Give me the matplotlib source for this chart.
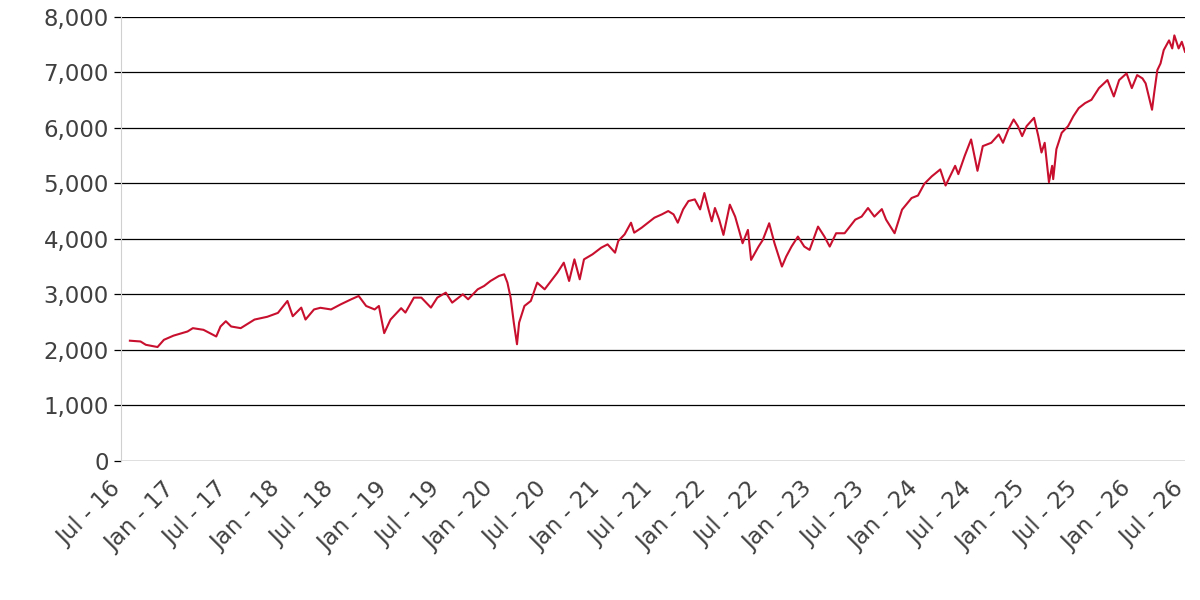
import pandas as pd
import numpy as np
import matplotlib
matplotlib.use('Agg')
import matplotlib.pyplot as plt
import matplotlib.dates as mdates
import matplotlib.transforms as mtransforms
from matplotlib.ticker import FuncFormatter

# index level, dates as decimal years
years = [2016.58, 2016.68, 2016.73, 2016.84, 2016.90, 2016.99, 2017.12, 2017.17, 2017.27, 2017.39,
         2017.43, 2017.48, 2017.53, 2017.62, 2017.75, 2017.87, 2017.97, 2018.06, 2018.11, 2018.19,
         2018.23, 2018.31, 2018.37, 2018.47, 2018.56, 2018.66, 2018.73, 2018.80, 2018.88, 2018.92,
         2018.97, 2019.03, 2019.13, 2019.17, 2019.25, 2019.32, 2019.41, 2019.47, 2019.55, 2019.61,
         2019.71, 2019.76, 2019.85, 2019.91, 2019.97, 2020.05, 2020.10, 2020.13, 2020.16, 2020.19,
         2020.22, 2020.24, 2020.29, 2020.35, 2020.41, 2020.48, 2020.54, 2020.60, 2020.66, 2020.71,
         2020.76, 2020.81, 2020.85, 2020.93, 2021.01, 2021.07, 2021.14, 2021.17, 2021.23, 2021.29,
         2021.32, 2021.39, 2021.45, 2021.51, 2021.58, 2021.64, 2021.69, 2021.73, 2021.78, 2021.83,
         2021.89, 2021.94, 2021.98, 2022.02, 2022.05, 2022.08, 2022.12, 2022.16, 2022.22, 2022.27,
         2022.31, 2022.34, 2022.39, 2022.42, 2022.49, 2022.53, 2022.59, 2022.64, 2022.71, 2022.75,
         2022.80, 2022.86, 2022.92, 2022.97, 2023.05, 2023.11, 2023.16, 2023.22, 2023.30, 2023.40,
         2023.46, 2023.52, 2023.58, 2023.65, 2023.69, 2023.77, 2023.84, 2023.93, 2023.99, 2024.05,
         2024.12, 2024.20, 2024.25, 2024.34, 2024.37, 2024.43, 2024.49, 2024.55, 2024.60, 2024.68,
         2024.75, 2024.79, 2024.84, 2024.89, 2024.93, 2024.97, 2025.01, 2025.08, 2025.12, 2025.15,
         2025.18, 2025.22, 2025.25, 2025.26, 2025.29, 2025.34, 2025.40, 2025.45, 2025.50, 2025.56,
         2025.62, 2025.69, 2025.77, 2025.83, 2025.88, 2025.95, 2026.00, 2026.05, 2026.10, 2026.13,
         2026.16, 2026.19, 2026.21, 2026.24, 2026.27, 2026.30, 2026.35, 2026.38, 2026.40, 2026.44,
         2026.47, 2026.50]

values = [2164, 2150, 2090, 2050, 2180, 2255, 2330, 2390, 2360, 2240,
          2420, 2515, 2420, 2390, 2545, 2595, 2665, 2880, 2605, 2760,
          2545, 2727, 2757, 2727, 2818, 2910, 2970, 2790, 2727, 2790,
          2300, 2545, 2750, 2670, 2940, 2940, 2760, 2940, 3030, 2850,
          3000, 2910, 3090, 3150, 3240, 3330, 3360, 3210, 2940, 2490,
          2100, 2490, 2790, 2880, 3210, 3090, 3240, 3390, 3570, 3240,
          3630, 3270, 3630, 3720, 3840, 3900, 3750, 3960, 4080, 4290,
          4110, 4200, 4290, 4380, 4440, 4500, 4440, 4290, 4530, 4680,
          4710, 4530, 4825, 4525, 4315, 4555, 4345, 4070, 4615, 4400,
          4130, 3920, 4160, 3620, 3860, 3980, 4280, 3920, 3500, 3680,
          3860, 4040, 3860, 3800, 4220, 4040, 3860, 4100, 4100, 4345,
          4400, 4555, 4400, 4535, 4345, 4100, 4525, 4735, 4780, 4990,
          5125, 5250, 4960, 5315, 5165, 5495, 5790, 5225, 5670, 5730,
          5880, 5730, 5970, 6150, 6030, 5850, 6030, 6180, 5850, 5555,
          5730, 5020, 5315, 5075, 5615, 5910, 6030, 6210, 6355, 6445,
          6505, 6715, 6860, 6565, 6860, 6980, 6715, 6950, 6890, 6800,
          6565, 6325, 6625, 7040, 7160, 7400, 7575, 7430, 7665, 7430,
          7550, 7370]

y_ticks = [0, 1000, 2000, 3000, 4000, 5000, 6000, 7000, 8000]


def to_date(y):
    yr = int(y)
    return pd.Timestamp(yr, 1, 1) + pd.Timedelta(days=(y - yr) * 365.25)


dates = [to_date(y) for y in years]
x_ticks = pd.date_range('2016-07-01', '2026-07-01', freq='6MS')

fig = plt.figure(figsize=(12, 6), dpi=100)
ax = fig.add_axes([0.101, 0.232, 0.8865, 0.740])

ax.plot(dates, values, color='#c8102e', linewidth=1.5)

ax.set_ylim(0, 8000)
ax.set_yticks(y_ticks)
ax.yaxis.set_major_formatter(FuncFormatter(lambda v, p: f'{int(v):,}'))
ax.grid(axis='y', color='black', linewidth=0.9)
ax.set_axisbelow(True)

ax.set_xlim(pd.Timestamp('2016-07-01'), dates[-1])
ax.set_xticks(x_ticks)
ax.xaxis.set_major_formatter(mdates.DateFormatter('%b - %y'))

for s in ['top', 'right', 'bottom']:
    ax.spines[s].set_visible(False)
ax.spines['left'].set_color('#d0d0d0')
ax.spines['left'].set_linewidth(0.8)

ax.tick_params(axis='y', length=5, width=0.9, color='black', pad=4,
               labelsize=16.5, labelcolor='#404040')
ax.tick_params(axis='x', length=0, pad=12, labelsize=16.5, labelcolor='#404040')
shift = mtransforms.ScaledTranslation(-0.12, 0, fig.dpi_scale_trans)
for lab in ax.get_xticklabels():
    lab.set_rotation(45)
    lab.set_ha('right')
    lab.set_va('top')
    lab.set_rotation_mode('anchor')
    lab.set_transform(lab.get_transform() + shift)

plt.savefig('out.png', dpi=100)
